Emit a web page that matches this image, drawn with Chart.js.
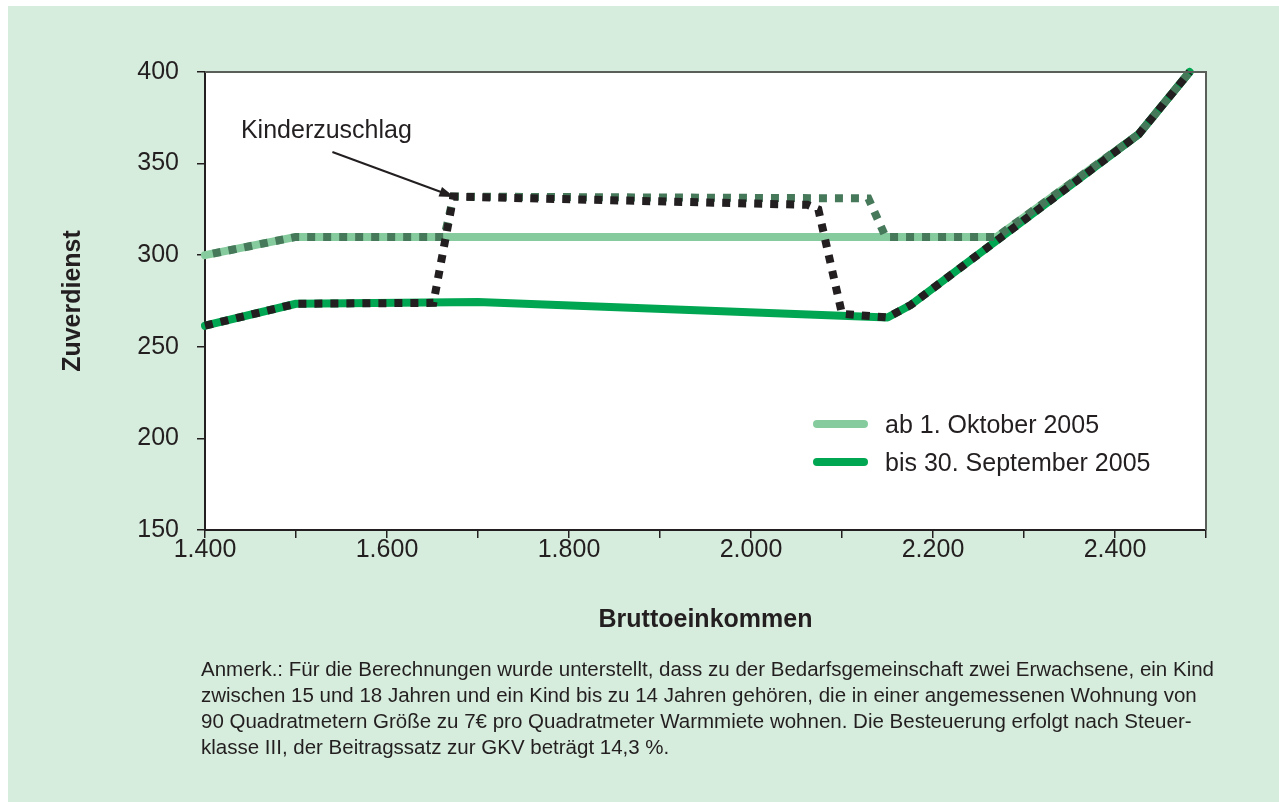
<!DOCTYPE html>
<html lang="de">
<head>
<meta charset="utf-8">
<title>Zuverdienst</title>
<script src="https://cdn.jsdelivr.net/npm/chart.js@4.4.0/dist/chart.umd.min.js"></script>
<style>
  html, body { margin: 0; padding: 0; background: #fff; }
  body { width: 1279px; height: 802px; position: relative; overflow: hidden;
         font-family: "Liberation Sans", Arial, sans-serif; color: #231f20; }
  #panel { position: absolute; left: 8px; top: 6px; right: 0; bottom: 0; background: #d6ecdc; }
  #chartBox { position: absolute; left: 0; top: 0; width: 1279px; height: 802px; }
  .leg { position: absolute; left: 813px; font-size: 25px; white-space: nowrap; }
  .leg span.swatch { position: absolute; left: 0; top: 50%; width: 55px; height: 8px; margin-top: -4px; border-radius: 4px; }
  .leg span.txt { position: absolute; left: 72px; top: 0; line-height: 28px; }
  #note { position: absolute; left: 201px; top: 656px; font-size: 20.5px; line-height: 26px; white-space: nowrap; }
</style>
</head>
<body>
<div id="panel"></div>
<div id="chartBox"><canvas id="zuverdienstChart" width="1279" height="802"></canvas></div>

<div class="leg" style="top:410px;height:28px;"><span class="swatch" style="background:#86cb9d"></span><span class="txt">ab 1. Oktober 2005</span></div>
<div class="leg" style="top:448px;height:28px;"><span class="swatch" style="background:#00a651"></span><span class="txt">bis 30. September 2005</span></div>

<div id="note">Anmerk.: Für die Berechnungen wurde unterstellt, dass zu der Bedarfsgemeinschaft zwei Erwachsene, ein Kind<br>zwischen 15 und 18 Jahren und ein Kind bis zu 14 Jahren gehören, die in einer angemessenen Wohnung von<br>90 Quadratmetern Größe zu 7€ pro Quadratmeter Warmmiete wohnen. Die Besteuerung erfolgt nach Steuer-<br>klasse III, der Beitragssatz zur GKV beträgt 14,3 %.</div>

<script>
// Daten (Bruttoeinkommen -> Zuverdienst)
var einkommenNeu = [1400, 1500, 2270, 2426, 2482];
var zuverdienstNeu = [300, 310, 310, 366, 400];

var einkommenAlt = [1400, 1500, 1700, 2150, 2176, 2426, 2482];
var zuverdienstAlt = [261.5, 273.5, 274.5, 266, 273, 366, 400];

// mit Kinderzuschlag
var einkommenAltKiz = [1400, 1500, 1651, 1673, 2062, 2074, 2100, 2150, 2176, 2426, 2482];
var zuverdienstAltKiz = [261.5, 273.5, 274, 332, 327.5, 325, 268, 266, 273, 366, 400];

var einkommenNeuKiz = [1400, 1500, 1663, 1673, 2129, 2148, 2270, 2426, 2482];
var zuverdienstNeuKiz = [300, 310, 310, 332, 331, 310, 310, 366, 400];

// Beschriftung Kinderzuschlag (in Datenkoordinaten)
var kizText = 'Kinderzuschlag';
var kizTextPos = [1439.5, 367.8];
var kizPfeil = [[1540, 356.3], [1674, 331.8]];

function punkte(xs, ys) {
    return xs.map(function(x, i) { return { x: x, y: ys[i] }; });
}

var schwarz = '#231f20';
var schrift = '"Liberation Sans", Arial, sans-serif';

var hintergrundPlugin = {
    id: 'hintergrund',
    beforeDraw: function(chart) {
        var a = chart.chartArea, ctx = chart.ctx;
        ctx.save();
        ctx.fillStyle = '#ffffff';
        ctx.fillRect(a.left, a.top, a.right - a.left, a.bottom - a.top);
        ctx.restore();
    },
    afterDraw: function(chart) {
        var a = chart.chartArea, ctx = chart.ctx;
        var xs = chart.scales.x, ys = chart.scales.y;
        ctx.save();
        // Rahmen oben/rechts
        ctx.strokeStyle = '#5a5f5a';
        ctx.lineWidth = 2;
        ctx.beginPath();
        ctx.moveTo(a.left, a.top);
        ctx.lineTo(a.right, a.top);
        ctx.lineTo(a.right, a.bottom);
        ctx.stroke();
        // Kinderzuschlag Text + Pfeil
        ctx.fillStyle = schwarz;
        ctx.font = '25px ' + schrift;
        ctx.textBaseline = 'middle';
        ctx.textAlign = 'left';
        ctx.fillText(kizText, xs.getPixelForValue(kizTextPos[0]), ys.getPixelForValue(kizTextPos[1]));
        var x1 = xs.getPixelForValue(kizPfeil[0][0]), y1 = ys.getPixelForValue(kizPfeil[0][1]);
        var x2 = xs.getPixelForValue(kizPfeil[1][0]), y2 = ys.getPixelForValue(kizPfeil[1][1]);
        var ang = Math.atan2(y2 - y1, x2 - x1);
        var kopf = 15;
        ctx.strokeStyle = schwarz;
        ctx.lineWidth = 2;
        ctx.beginPath();
        ctx.moveTo(x1, y1);
        ctx.lineTo(x2 - kopf * 0.8 * Math.cos(ang), y2 - kopf * 0.8 * Math.sin(ang));
        ctx.stroke();
        ctx.beginPath();
        ctx.moveTo(x2, y2);
        ctx.lineTo(x2 - kopf * Math.cos(ang) + 5 * Math.sin(ang), y2 - kopf * Math.sin(ang) - 5 * Math.cos(ang));
        ctx.lineTo(x2 - kopf * Math.cos(ang) - 5 * Math.sin(ang), y2 - kopf * Math.sin(ang) + 5 * Math.cos(ang));
        ctx.closePath();
        ctx.fill();
        ctx.restore();
    }
};

var zuverdienstChart = new Chart(document.getElementById('zuverdienstChart').getContext('2d'), {
    type: 'line',
    data: {
        datasets: [{
            label: 'ab 1. Oktober 2005',
            data: punkte(einkommenNeu, zuverdienstNeu),
            borderColor: '#86cb9d',
            borderWidth: 8,
            borderCapStyle: 'round',
            borderJoinStyle: 'round',
            order: 4
        }, {
            label: 'bis 30. September 2005',
            data: punkte(einkommenAlt, zuverdienstAlt),
            borderColor: '#00a651',
            borderWidth: 8,
            borderCapStyle: 'round',
            borderJoinStyle: 'round',
            order: 3
        }, {
            label: 'ab 1. Oktober 2005 mit Kinderzuschlag',
            data: punkte(einkommenNeuKiz, zuverdienstNeuKiz),
            borderColor: '#46785a',
            borderWidth: 8,
            borderDash: [8, 8],
            borderDashOffset: 8,
            borderCapStyle: 'butt',
            order: 2
        }, {
            label: 'bis 30. September 2005 mit Kinderzuschlag',
            data: punkte(einkommenAltKiz, zuverdienstAltKiz),
            borderColor: schwarz,
            borderWidth: 8,
            borderDash: [8, 8],
            borderCapStyle: 'butt',
            order: 1
        }]
    },
    options: {
        responsive: false,
        animation: false,
        events: [],
        clip: false,
        elements: { point: { radius: 0 }, line: { tension: 0, fill: false } },
        layout: { padding: { left: 50, top: 72, right: 73, bottom: 162 } },
        plugins: {
            legend: { display: false },
            tooltip: { enabled: false },
            title: { display: false }
        },
        scales: {
            x: {
                type: 'linear',
                min: 1400,
                max: 2500,
                afterFit: function(s) { s.height = 110; },
                grid: { drawOnChartArea: false, drawTicks: true, tickLength: 8, color: schwarz, lineWidth: 1.5 },
                border: { color: schwarz, width: 2 },
                ticks: {
                    stepSize: 100,
                    padding: -3,
                    color: schwarz,
                    maxRotation: 0,
                    autoSkip: false,
                    font: { family: schrift, size: 25 },
                    callback: function(v) { return v % 200 === 0 ? (v / 1000).toFixed(3) : ''; }
                },
                title: {
                    display: true,
                    text: 'Bruttoeinkommen',
                    color: schwarz,
                    padding: { top: 0, bottom: 5 },
                    font: { family: schrift, size: 25, weight: 'bold' }
                }
            },
            y: {
                min: 150,
                max: 400,
                afterFit: function(s) { s.width = 155; },
                grid: { drawOnChartArea: false, drawTicks: true, tickLength: 8, color: schwarz, lineWidth: 1.5 },
                border: { color: schwarz, width: 2 },
                ticks: {
                    stepSize: 50,
                    padding: 18,
                    color: schwarz,
                    font: { family: schrift, size: 25 }
                },
                title: {
                    display: true,
                    text: 'Zuverdienst',
                    color: schwarz,
                    padding: { top: 8, bottom: 0 },
                    font: { family: schrift, size: 25, weight: 'bold' }
                }
            }
        }
    },
    plugins: [hintergrundPlugin]
});
</script>
</body>
</html>
